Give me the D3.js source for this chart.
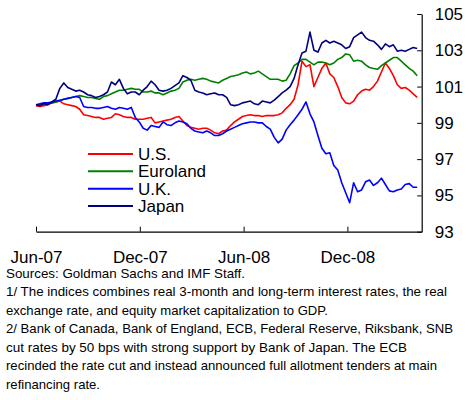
<!DOCTYPE html>
<html>
<head>
<meta charset="utf-8">
<script src="https://cdn.jsdelivr.net/npm/d3@7"></script>
<style>
  body { margin: 0; background: #fff; }
  svg { display: block; font-family: "Liberation Sans", Arial, sans-serif; }
</style>
</head>
<body>
<svg id="chart" width="469" height="400"></svg>
<script>
// weekly readings, first week starts 1 Jun 2007
let startDate = new Date(2007, 5, 1);
let seriesNames = ["U.S.", "Euroland", "U.K.", "Japan"];
let seriesColors = ["#ff0000", "#008000", "#0000ff", "#000080"];

let us = [99.95, 99.9, 99.95, 100.0, 100.1, 100.15, 100.2, 100.05, 100.0, 99.95,
    99.9, 99.75, 99.45, 99.4, 99.35, 99.3, 99.3, 99.2, 99.25, 99.3,
    99.5, 99.45, 99.35, 99.3, 99.3, 99.2, 99.2, 99.2, 99.25, 99.3,
    99.0, 99.05, 99.1, 99.15, 99.2, 99.3, 99.35, 99.1, 98.85, 98.75,
    98.7, 98.65, 98.7, 98.7, 98.6, 98.45, 98.4, 98.55, 98.6, 98.85,
    99.05, 99.2, 99.35, 99.4, 99.45, 99.4, 99.4, 99.35, 99.4, 99.4,
    99.4, 99.45, 99.55, 99.8, 100.0, 100.3, 101.1, 102.4, 102.1, 102.2,
    101.0, 101.5, 102.0, 102.3, 101.7, 101.5, 101.0, 100.4, 100.1, 100.05,
    100.2, 100.55, 100.75, 100.85, 100.8, 101.0, 101.3, 101.8, 102.3, 102.0,
    101.6, 101.1, 100.9, 100.95, 100.8, 100.6, 100.4];

let euroland = [100.0, 100.0, 100.05, 100.1, 100.1, 100.15, 100.2, 100.3, 100.35, 100.4,
    100.45, 100.5, 100.45, 100.4, 100.4, 100.35, 100.3, 100.45, 100.5, 100.6,
    100.7, 100.8, 100.8, 100.85, 100.9, 100.85, 100.85, 100.7, 100.7, 100.75,
    100.65, 100.65, 100.55, 100.65, 100.75, 100.8, 100.9, 101.25, 101.35, 101.4,
    101.35, 101.4, 101.45, 101.4, 101.3, 101.25, 101.2, 101.35, 101.45, 101.55,
    101.6, 101.65, 101.75, 101.8, 101.7, 101.75, 101.85, 101.7, 101.55, 101.4,
    101.4, 101.4, 101.3, 101.35, 101.7, 102.15, 102.3, 102.5, 102.5, 102.35,
    102.2, 102.35, 102.35, 102.3, 102.2, 102.3, 102.5, 102.6, 102.8, 102.75,
    102.4, 102.45, 102.4, 102.2, 102.05, 102.0, 101.95, 102.15, 102.3, 102.45,
    102.6, 102.6, 102.4, 102.2, 102.0, 101.85, 101.6];

let uk = [100.0, 100.05, 100.1, 100.1, 100.15, 100.2, 100.25, 100.3, 100.35, 100.4,
    100.45, 100.4, 99.9, 99.85, 99.85, 99.8, 99.8, 99.85, 99.9, 99.8,
    99.75, 99.85, 99.8, 99.75, 99.85, 99.3, 99.05, 98.7, 98.6, 98.85,
    98.8, 98.75, 99.05, 98.9, 98.85, 99.0, 99.1, 99.05, 98.95, 98.7,
    98.55, 98.5, 98.45, 98.55, 98.45, 98.3, 98.3, 98.4, 98.55, 98.65,
    98.75, 98.85, 98.95, 99.0, 99.05, 99.05, 99.0, 99.0, 98.8, 98.65,
    98.2, 97.9, 98.1, 98.6, 98.9, 99.15, 99.45, 99.75, 100.15, 99.5,
    99.05, 98.3, 97.6, 97.3, 97.35, 96.65, 96.4, 95.7, 95.15, 94.6,
    95.7, 95.2, 95.3, 95.75, 95.85, 95.55, 95.7, 95.95, 95.6, 95.25,
    95.2, 95.3, 95.35, 95.6, 95.65, 95.45, 95.45];

let japan = [100.0, 99.95, 100.05, 100.0, 100.15, 100.3, 100.9, 101.2, 100.95, 100.85,
    100.75, 100.8, 100.7, 100.55, 100.5, 100.4, 100.45, 100.55, 100.7, 101.25,
    101.1, 101.4, 100.9, 100.6, 100.7, 100.7, 100.55, 100.8, 101.0, 101.3,
    101.1, 100.8, 100.75, 100.8, 100.9, 101.05, 101.2, 101.6, 101.5, 101.35,
    100.8, 100.7, 100.65, 100.55, 100.6, 100.65, 100.55, 100.55, 100.4, 100.0,
    99.95, 100.0, 100.1, 100.15, 100.2, 100.05, 100.0, 100.2, 100.15, 100.1,
    100.25, 100.45, 100.65, 100.8, 101.0, 101.45, 102.2, 102.85, 102.95, 104.0,
    103.0, 102.9, 103.4, 103.55, 103.4, 103.5, 103.4, 103.3, 103.1, 103.2,
    103.7, 103.85, 104.0, 103.7, 103.55, 103.5, 103.3, 103.05, 103.35, 103.2,
    103.3, 102.95, 103.0, 102.95, 103.05, 103.15, 103.1];

let tickDates = [new Date(2007, 5, 1), new Date(2007, 11, 1), new Date(2008, 5, 1), new Date(2008, 11, 1)];
let yTicks = [93, 95, 97, 99, 101, 103, 105];

let notes = [
    "Sources: Goldman Sachs and IMF Staff.",
    "1/ The indices combines real 3-month and long-term interest rates, the real",
    "exchange rate, and equity market capitalization to GDP.",
    "2/ Bank of Canada, Bank of England, ECB, Federal Reserve, Riksbank, SNB",
    "cut rates by 50 bps with strong support by Bank of Japan. The ECB",
    "recinded the rate cut and instead announced full allotment tenders at main",
    "refinancing rate."
];

let allSeries = [us, euroland, uk, japan];
let dates = us.map((v, i) => d3.timeDay.offset(startDate, 7 * i));

let svg = d3.select("#chart");

let plotLeft = 36, plotRight = 421.7, plotTop = 14, plotBottom = 231.7;

let xScale = d3.scaleTime()
    .domain([new Date(2007, 5, 1), new Date(2009, 3, 11)])
    .range([plotLeft, plotRight]);
let yScale = d3.scaleLinear()
    .domain([93, 105])
    .range([plotBottom, plotTop]);

// lines
let line = d3.line()
    .x((d, i) => xScale(dates[i]))
    .y(d => yScale(d));

svg.append("g")
    .selectAll("path")
    .data(allSeries)
    .enter().append("path")
    .attr("d", d => line(d))
    .attr("fill", "none")
    .attr("stroke", (d, i) => seriesColors[i])
    .attr("stroke-width", 1.6)
    .attr("stroke-linejoin", "round");

// x axis, ticks point up into the plot
let xAxis = svg.append("g")
    .attr("transform", `translate(0, ${plotBottom})`)
    .call(d3.axisBottom(xScale)
        .tickValues(tickDates)
        .tickFormat(d3.timeFormat("%b-%y"))
        .tickSizeInner(-5)
        .tickSizeOuter(0)
        .tickPadding(19));

// y axis on the right, ticks point left
let yAxis = svg.append("g")
    .attr("transform", `translate(${plotRight}, 0)`)
    .call(d3.axisRight(yScale)
        .tickValues(yTicks)
        .tickSizeInner(-4.5)
        .tickSizeOuter(0)
        .tickPadding(13));

[xAxis, yAxis].forEach(g => {
    g.select(".domain").attr("stroke", "#000").attr("stroke-width", 1.2);
    g.selectAll(".tick line").attr("stroke", "#000").attr("stroke-width", 1);
    g.selectAll("text")
        .attr("fill", "#000")
        .style("font-family", '"Liberation Sans", Arial, sans-serif')
        .style("font-size", "17px");
});

// legend
let legend = svg.append("g");
let legendY = [154, 171.3, 188.7, 206];
seriesNames.forEach((name, i) => {
    legend.append("line")
        .attr("x1", 88).attr("x2", 133)
        .attr("y1", legendY[i]).attr("y2", legendY[i])
        .attr("stroke", seriesColors[i])
        .attr("stroke-width", 2);
    legend.append("text")
        .attr("x", 138)
        .attr("y", legendY[i] + 5.8)
        .style("font-size", "17px")
        .text(name);
});

// footnotes
let noteWidths = [239, 441, 322, 447, 401, 431, 94];
svg.append("g")
    .selectAll("text")
    .data(notes)
    .enter().append("text")
    .attr("x", 6)
    .attr("y", (d, i) => 277.5 + i * 18.5)
    .attr("textLength", (d, i) => noteWidths[i])
    .attr("lengthAdjust", "spacingAndGlyphs")
    .style("font-size", "13.5px")
    .text(d => d);
</script>
</body>
</html>
